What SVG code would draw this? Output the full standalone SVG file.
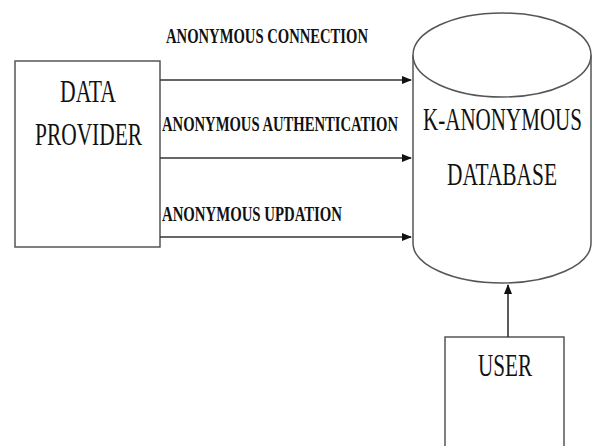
<svg xmlns="http://www.w3.org/2000/svg" width="594" height="446" viewBox="0 0 594 446">
<style>
.box{fill:#fff;stroke:#555;stroke-width:1.5}
.edge{fill:none;stroke:#333;stroke-width:1.6}
.big{font-family:"Liberation Serif",serif;font-size:32px;fill:#111}
.lbl{font-family:"Liberation Serif",serif;font-size:20px;font-weight:bold;fill:#111}
</style>
<defs>
<marker id="ah" markerWidth="10" markerHeight="8" refX="9" refY="4" orient="auto" markerUnits="userSpaceOnUse">
<path d="M0,0 L10,4 L0,8 Z" fill="#111"/>
</marker>
</defs>
<rect width="594" height="446" fill="#fff"/>
<g id="data-provider">
<rect class="box" x="15" y="61" width="145" height="186"/>
<text class="big" x="60" y="102" textLength="56" lengthAdjust="spacingAndGlyphs">DATA</text>
<text class="big" x="35" y="145" textLength="107" lengthAdjust="spacingAndGlyphs">PROVIDER</text>
</g>
<g id="k-anonymous-database">
<path class="box" d="M413,55 L413,243 A89,40 0 0 0 591,243 L591,55"/>
<ellipse class="box" cx="502" cy="55" rx="89" ry="42"/>
<text class="big" x="423" y="130" textLength="159" lengthAdjust="spacingAndGlyphs">K-ANONYMOUS</text>
<text class="big" x="447" y="185" textLength="110" lengthAdjust="spacingAndGlyphs">DATABASE</text>
</g>
<g id="user">
<rect class="box" x="445" y="337" width="119" height="120"/>
<text class="big" x="478" y="376" textLength="54" lengthAdjust="spacingAndGlyphs">USER</text>
</g>
<g id="connectors">
<line class="edge" x1="160" y1="80" x2="411" y2="80" marker-end="url(#ah)"/>
<line class="edge" x1="160" y1="158" x2="411" y2="158" marker-end="url(#ah)"/>
<line class="edge" x1="160" y1="237" x2="411" y2="237" marker-end="url(#ah)"/>
<line class="edge" x1="508" y1="337" x2="508" y2="285" marker-end="url(#ah)"/>
</g>
<g id="labels">
<text class="lbl" x="166" y="43" textLength="202" lengthAdjust="spacingAndGlyphs">ANONYMOUS CONNECTION</text>
<text class="lbl" x="162" y="131" textLength="236" lengthAdjust="spacingAndGlyphs">ANONYMOUS AUTHENTICATION</text>
<text class="lbl" x="162" y="221" textLength="180" lengthAdjust="spacingAndGlyphs">ANONYMOUS UPDATION</text>
</g>
</svg>
